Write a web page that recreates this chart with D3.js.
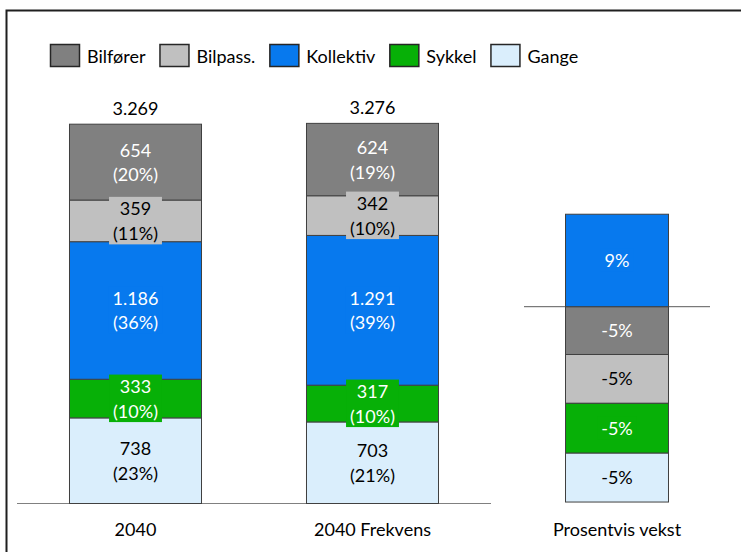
<!DOCTYPE html>
<html>
<head>
<meta charset="utf-8">
<script src="https://cdn.jsdelivr.net/npm/d3@7"></script>
<style>
  html, body { margin: 0; padding: 0; background: #fff; }
  svg { display: block; font-family: "Lato", "Open Sans", sans-serif; }
</style>
</head>
<body>
<svg id="chart" width="741" height="552"></svg>
<script>
// ---- data ----
const categories = ["2040", "2040 Frekvens"];
const modes = ["Bilfører", "Bilpass.", "Kollektiv", "Sykkel", "Gange"];
const trips2040 = [654, 359, 1186, 333, 738];
const tripsFrekvens = [624, 342, 1291, 317, 703];
const shares2040 = ["20%", "11%", "36%", "10%", "23%"];
const sharesFrekvens = ["19%", "10%", "39%", "10%", "21%"];
const totals = [3269, 3276];
const growthCategory = "Prosentvis vekst";
const growth = [-4.6, -4.7, 8.9, -4.8, -4.7];
const growthLabels = ["-5%", "-5%", "9%", "-5%", "-5%"];
const colors = ["#808080", "#C0C0C0", "#0779EE", "#07B007", "#DAEEFC"];
const textColors = ["#ffffff", "#000000", "#ffffff", "#ffffff", "#000000"];

// ---- setup ----
const svg = d3.select("#chart");
const fontSize = 18;
const locale = d3.formatLocale({ decimal: ",", thousands: ".", grouping: [3], currency: ["", " kr"] });
const fmt = locale.format(",d");

// frame
svg.append("rect").attr("x", 6.5).attr("y", 10.5).attr("width", 900).attr("height", 700)
  .attr("fill", "none").attr("stroke", "#1f1f1f").attr("stroke-width", 2);

// scales main chart
const x = d3.scaleBand().domain(categories).range([17, 491]).paddingInner(0.443).paddingOuter(0.2215);
const y = d3.scaleLinear().domain([0, 3500]).range([503.5, 97.5]);

// scales growth chart
const x2 = d3.scaleBand().domain([growthCategory]).range([524, 710]).paddingInner(0).paddingOuter(0.403);
const y2 = d3.scaleLinear().domain([-20, 10]).range([514.5, 202.8]);

const seriesData = [trips2040, tripsFrekvens];
const shareData = [shares2040, sharesFrekvens];
const rows = categories.map((c, ci) => {
  const r = { cat: c };
  modes.forEach((m, mi) => r[m] = seriesData[ci][mi]);
  return r;
});
const stackKeys = modes.slice().reverse(); // Gange at bottom
const stacked = d3.stack().keys(stackKeys)(rows);

const growthRow = { cat: growthCategory };
modes.forEach((m, mi) => growthRow[m] = growth[mi]);
const gStacked = d3.stack().keys(modes).offset(d3.stackOffsetDiverging)([growthRow]);

// axis line main
const axisG = svg.append("g").attr("transform", "translate(0,503.5)");
axisG.call(d3.axisBottom(x).tickSize(0).tickPadding(0).tickFormat(""));
axisG.select(".domain").attr("stroke", "#808080").attr("d", "M17,0H491");

// growth baseline
svg.append("line").attr("x1", 524).attr("x2", 710).attr("y1", y2(0)).attr("y2", y2(0))
  .attr("stroke", "#5a5a5a").attr("stroke-width", 1);

// segments main
const segG = svg.append("g");
stacked.forEach(layer => {
  const mi = modes.indexOf(layer.key);
  layer.forEach(d => {
    segG.append("rect")
      .attr("x", x(d.data.cat)).attr("width", x.bandwidth())
      .attr("y", y(d[1])).attr("height", y(d[0]) - y(d[1]))
      .attr("fill", colors[mi]).attr("stroke", "#404040").attr("stroke-width", 1);
  });
});
// segments growth
gStacked.forEach(layer => {
  const mi = modes.indexOf(layer.key);
  layer.forEach(d => {
    segG.append("rect")
      .attr("x", x2(growthCategory)).attr("width", x2.bandwidth())
      .attr("y", y2(d[1])).attr("height", y2(d[0]) - y2(d[1]))
      .attr("fill", colors[mi]).attr("stroke", "#404040").attr("stroke-width", 1);
  });
});

// labels
const labG = svg.append("g");
function addLabel(cx, cy, lines, mi) {
  const g = labG.append("g");
  const box = g.append("rect").attr("fill", colors[mi]);
  const t = g.append("text").attr("text-anchor", "middle").attr("font-size", fontSize)
    .attr("fill", textColors[mi]);
  const n = lines.length;
  lines.forEach((ln, i) => {
    const off = n === 1 ? 6.5 : (i === 0 ? -5.5 : 19);
    t.append("tspan").attr("x", cx).attr("y", cy + off).text(ln);
  });
  const bb = t.node().getBBox();
  box.attr("x", bb.x - 4).attr("y", bb.y - 0.5).attr("width", bb.width + 8).attr("height", bb.height + 1);
}
stacked.forEach(layer => {
  const mi = modes.indexOf(layer.key);
  layer.forEach((d, ci) => {
    const cx = x(d.data.cat) + x.bandwidth() / 2;
    const cy = (y(d[0]) + y(d[1])) / 2;
    addLabel(cx, cy, [fmt(d.data[layer.key]), "(" + shareData[ci][mi] + ")"], mi);
  });
});
gStacked.forEach(layer => {
  const mi = modes.indexOf(layer.key);
  layer.forEach(d => {
    const cx = x2(growthCategory) + x2.bandwidth() / 2;
    const cy = (y2(d[0]) + y2(d[1])) / 2;
    addLabel(cx, cy, [growthLabels[mi]], mi);
  });
});

// totals
categories.forEach((c, ci) => {
  svg.append("text").attr("x", x(c) + x.bandwidth() / 2).attr("y", y(totals[ci]) - 9)
    .attr("text-anchor", "middle").attr("font-size", fontSize).attr("fill", "#000")
    .text(fmt(totals[ci]));
});

// category labels
categories.forEach(c => {
  svg.append("text").attr("x", x(c) + x.bandwidth() / 2).attr("y", 535.5)
    .attr("text-anchor", "middle").attr("font-size", fontSize).attr("fill", "#000").text(c);
});
svg.append("text").attr("x", x2(growthCategory) + x2.bandwidth() / 2).attr("y", 535.5)
  .attr("text-anchor", "middle").attr("font-size", fontSize).attr("fill", "#000").text(growthCategory);

// legend
const leg = svg.append("g");
let lx = 50;
modes.forEach((m, mi) => {
  leg.append("rect").attr("x", lx + 0.5).attr("y", 44.5).attr("width", 29).attr("height", 22)
    .attr("fill", colors[mi]).attr("stroke", "#262626").attr("stroke-width", 1.5);
  const t = leg.append("text").attr("x", lx + 37).attr("y", 63).attr("font-size", fontSize)
    .attr("fill", "#000").text(m);
  lx = lx + 37 + t.node().getComputedTextLength() + 14;
});
</script>
</body>
</html>
